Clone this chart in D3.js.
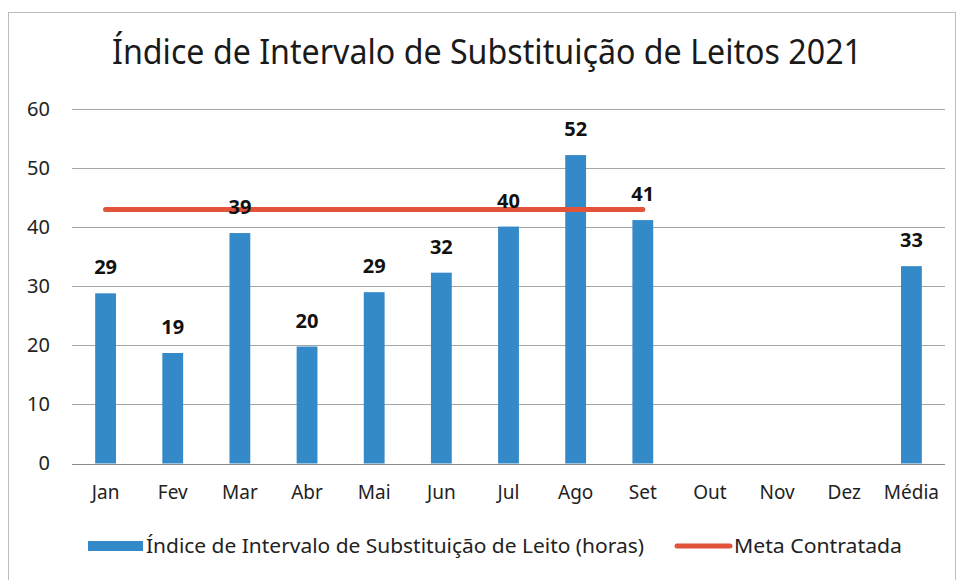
<!DOCTYPE html>
<html>
<head>
<meta charset="utf-8">
<script src="https://cdn.jsdelivr.net/npm/d3@7"></script>
<style>
  body { margin: 0; background: #fff; }
  svg { font-family: 'Noto Sans', sans-serif; }
</style>
</head>
<body>
<div id="chart"></div>
<script>
const categories = ['Jan', 'Fev', 'Mar', 'Abr', 'Mai', 'Jun', 'Jul', 'Ago', 'Set', 'Out', 'Nov', 'Dez', 'Média'];
const indiceValues = [28.8, 18.7, 39, 19.8, 29, 32.3, 40.1, 52.2, 41.2, null, null, null, 33.4];
const metaValues = [43, 43, 43, 43, 43, 43, 43, 43, 43, null, null, null, null];
const yTicks = [0, 10, 20, 30, 40, 50, 60];

const titleText = 'Índice de Intervalo de Substituição de Leitos 2021';
const barLabel = 'Índice de Intervalo de Substituição de Leito (horas)';
const lineLabel = 'Meta Contratada';

const width = 959;
const height = 580;
const margin = { top: 109, right: 14, bottom: 116, left: 72 };

const svg = d3.select('#chart')
    .append('svg')
    .attr('width', width)
    .attr('height', height)
    .attr('viewBox', [0, 0, width, height]);

// outer border of the chart area
svg.append('rect')
    .attr('x', 8.5)
    .attr('y', 12.5)
    .attr('width', width - 12)
    .attr('height', height - 10)
    .attr('fill', 'none')
    .attr('stroke', '#bdbdbd');

// force a text into a given width (Calibri-like narrow look)
const fit = (sel, w) => sel.attr('textLength', w).attr('lengthAdjust', 'spacingAndGlyphs');

const title = svg.append('text')
    .attr('x', 487)
    .attr('y', 64)
    .attr('text-anchor', 'middle')
    .attr('font-size', 34)
    .attr('fill', '#1a1a1a')
    .text(titleText);
fit(title, 750);

const x = d3.scaleBand()
    .domain(categories)
    .range([margin.left, width - margin.right])
    .paddingInner(0.69)
    .paddingOuter(0.345);

const y = d3.scaleLinear()
    .domain([0, 60])
    .range([height - margin.bottom - 0.5, margin.top]);

// gridlines
svg.append('g')
    .selectAll('line')
    .data(yTicks)
    .join('line')
    .attr('x1', margin.left)
    .attr('x2', width - margin.right)
    .attr('y1', d => Math.round(y(d)) + 0.5)
    .attr('y2', d => Math.round(y(d)) + 0.5)
    .attr('stroke', d => d === 0 ? '#8c8c8c' : '#a6a6a6')
    .attr('stroke-width', 1);

// y axis labels
const yAxis = svg.append('g')
    .attr('transform', `translate(${margin.left - 8},0)`)
    .call(d3.axisLeft(y).tickValues(yTicks).tickSize(0).tickPadding(0));
yAxis.select('.domain').remove();
yAxis.selectAll('text')
    .attr('font-size', 20)
    .attr('font-family', "'Noto Sans', sans-serif")
    .attr('fill', '#222')
    .attr('x', -14);

// x axis labels
const xAxis = svg.append('g')
    .attr('transform', `translate(0,${y(0)})`)
    .call(d3.axisBottom(x).tickSize(0).tickPadding(22));
xAxis.select('.domain').remove();
xAxis.selectAll('text')
    .attr('font-size', 19)
    .attr('font-family', "'Noto Sans', sans-serif")
    .attr('fill', '#222');

const barData = categories.map((c, i) => ({ cat: c, val: indiceValues[i] })).filter(d => d.val != null);

// bars
svg.append('g')
    .attr('fill', '#3489c9')
    .selectAll('rect')
    .data(barData)
    .join('rect')
    .attr('x', d => x(d.cat))
    .attr('y', d => y(d.val))
    .attr('width', x.bandwidth())
    .attr('height', d => y(0) - y(d.val));

// meta line
const metaData = categories.map((c, i) => ({ cat: c, val: metaValues[i] })).filter(d => d.val != null);
const line = d3.line()
    .x(d => x(d.cat) + x.bandwidth() / 2)
    .y(d => y(d.val));

svg.append('path')
    .datum(metaData)
    .attr('d', line)
    .attr('fill', 'none')
    .attr('stroke', '#e2533a')
    .attr('stroke-width', 5)
    .attr('stroke-linecap', 'round');

// data labels
svg.append('g')
    .selectAll('text')
    .data(barData)
    .join('text')
    .attr('x', d => x(d.cat) + x.bandwidth() / 2)
    .attr('y', d => y(d.val) - 19)
    .attr('text-anchor', 'middle')
    .attr('font-size', 20)
    .attr('font-weight', 'bold')
    .attr('fill', '#111')
    .text(d => d3.format('.0f')(d.val));

// legend
const legend = svg.append('g').attr('transform', 'translate(0,546)');
legend.append('rect')
    .attr('x', 88)
    .attr('y', -5)
    .attr('width', 55)
    .attr('height', 10)
    .attr('fill', '#3489c9');
const lt1 = legend.append('text')
    .attr('x', 146)
    .attr('y', 7)
    .attr('font-size', 20)
    .attr('fill', '#222')
    .text(barLabel);
fit(lt1, 498);

legend.append('line')
    .attr('x1', 677)
    .attr('x2', 730)
    .attr('y1', 0)
    .attr('y2', 0)
    .attr('stroke', '#e2533a')
    .attr('stroke-width', 5)
    .attr('stroke-linecap', 'round');
const lt2 = legend.append('text')
    .attr('x', 734)
    .attr('y', 7)
    .attr('font-size', 20)
    .attr('fill', '#222')
    .text(lineLabel);
fit(lt2, 168);
</script>
</body>
</html>
